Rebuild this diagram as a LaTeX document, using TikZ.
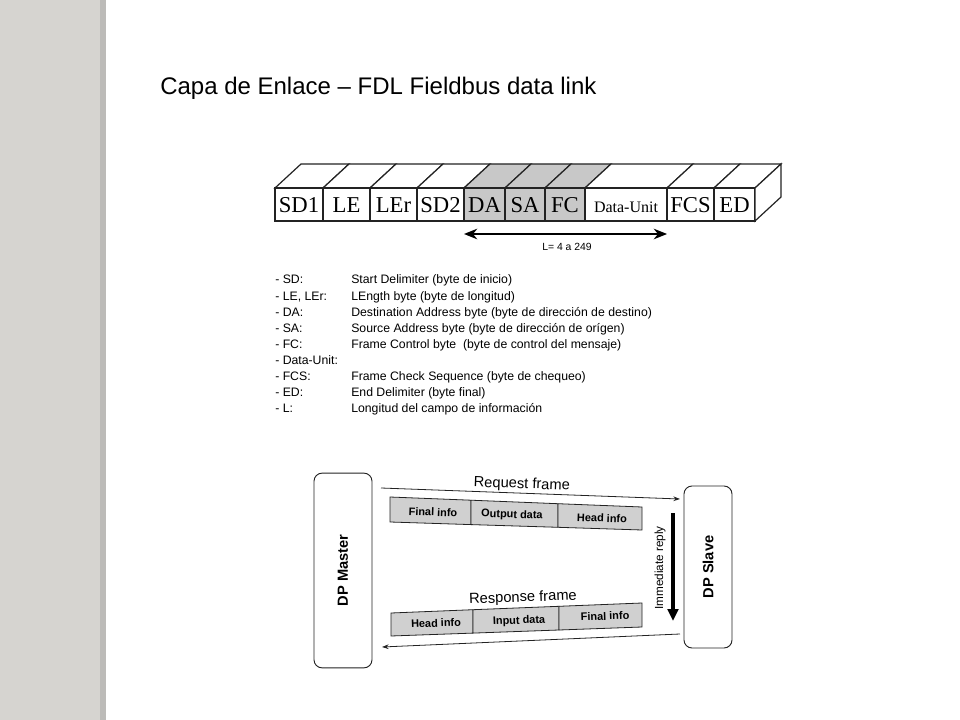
\documentclass[tikz,border=0pt]{standalone}
\usepackage{fontspec}
\setmainfont{Liberation Sans}
\newfontfamily\framefont{Liberation Serif}
\usetikzlibrary{arrows.meta}
\definecolor{StripColor}{RGB}{214,212,208}
\definecolor{StripEdge}{RGB}{188,187,184}
\definecolor{FieldShade}{RGB}{200,200,200}
\definecolor{InfoShade}{RGB}{208,208,208}
\definecolor{LineColor}{RGB}{35,35,35}
\tikzset{
    title/.style={font=\fontsize{18}{20}\selectfont, inner sep=0pt, anchor=west},
    fieldline/.style={draw=LineColor, line width=0.9pt},
    field/.style={font=\framefont\fontsize{17}{17}\selectfont, inner sep=0pt, anchor=base},
    fieldsmall/.style={font=\framefont\fontsize{12}{12}\selectfont, inner sep=0pt, anchor=base},
    span/.style={{Stealth[length=10pt,width=8pt]}-{Stealth[length=10pt,width=8pt]}, line width=1.1pt, draw=black},
    spanlabel/.style={font=\fontsize{7.8}{9}\selectfont, inner sep=0pt},
    legend/.style={font=\fontsize{9.2}{10}\selectfont, inner sep=0pt, anchor=base west},
    station/.style={draw=LineColor, rounded corners=6pt, line width=0.7pt, font=\bfseries\fontsize{11}{12}\selectfont},
    infobox/.style={draw=LineColor, fill=InfoShade, line width=0.6pt},
    infotext/.style={font=\bfseries\fontsize{8.2}{9}\selectfont, inner sep=0pt, text height=6pt, text depth=0pt},
    msg/.style={-{Stealth[length=5pt,width=3.5pt]}, draw=LineColor, line width=0.6pt},
    msglabel/.style={font=\fontsize{11}{12}\selectfont, inner sep=1pt},
    reply/.style={-{Triangle[length=9pt,width=8pt]}, line width=2.6pt, draw=black}
}
\begin{document}
\begin{tikzpicture}[x=0.75pt,y=-0.75pt]
    \useasboundingbox (0,0) rectangle (960,720);
    % Background strip
    \fill[StripColor] (0,0) rectangle (103,720);
    \fill[StripEdge] (100,0) rectangle (106,720);

    % Title
    \node[title] (title) at (160,88) {Capa de Enlace – FDL Fieldbus data link};

    % Frame fields
    \foreach \a/\b/\t/\c/\s/\n in {275/323/SD1/white/field/sd1, 323/370/LE/white/field/le,
        370/417/LEr/white/field/ler, 417/464/SD2/white/field/sdtwo,
        464/505/DA/FieldShade/field/da, 505/545/SA/FieldShade/field/sa,
        545/585/FC/FieldShade/field/fc, 585/667/Data-Unit/white/fieldsmall/du,
        667/714/FCS/white/field/fcs, 714/755/ED/white/field/ed} {
        \filldraw[fieldline, fill=\c] (\a,188) -- ++(26,-24) -- (\b+26,164) -- (\b,188) -- cycle;
        \filldraw[fieldline, fill=\c] (\a,188) rectangle (\b,221);
        \node[\s] (\n) at ({(\a+\b)/2},213) {\t};
    }
    \filldraw[fieldline, fill=white] (755,188) -- (781,164) -- (781,197) -- (755,221) -- cycle;

    % Length span
    \coordinate (l-left) at (464,234);
    \coordinate (l-right) at (667,234);
    \draw[span] (l-left) -- (l-right);
    \node[spanlabel] (l-label) at (567,247) {L= 4 a 249};

    % Legend
    \foreach \i/\k/\d in {0/{- SD:}/{Start Delimiter (byte de inicio)},
        1/{- LE, LEr:}/{LEngth byte (byte de longitud)},
        2/{- DA:}/{Destination Address byte (byte de dirección de destino)},
        3/{- SA:}/{Source Address byte (byte de dirección de orígen)},
        4/{- FC:}/{Frame Control byte\ \ (byte de control del mensaje)},
        5/{- Data-Unit:}/{},
        6/{- FCS:}/{Frame Check Sequence (byte de chequeo)},
        7/{- ED:}/{End Delimiter (byte final)},
        8/{- L:}/{Longitud del campo de información}} {
        \node[legend] (key-\i) at (275,{284+\i*16.1}) {\k};
        \node[legend] (desc-\i) at (351,{284+\i*16.1}) {\d};
    }

    % Stations
    \node[station, rotate=90, minimum width=146pt, minimum height=43.5pt] (master) at (343,570.5) {DP Master};
    \node[station, rotate=90, minimum width=121.5pt, minimum height=36pt] (slave) at (708,567) {DP Slave};

    % Request frame
    \filldraw[infobox] (390,497) -- (471,500.2) -- (471,524.6) -- (390,522) -- cycle;
    \filldraw[infobox] (471,500.2) -- (558,503.7) -- (558,527.3) -- (471,524.6) -- cycle;
    \filldraw[infobox] (558,503.7) -- (642,507) -- (642,530) -- (558,527.3) -- cycle;
    \node[infotext, rotate=-2] (req-final) at (433,512) {Final info};
    \node[infotext, rotate=-2] (req-out) at (512,514) {Output data};
    \node[infotext, rotate=-2] (req-head) at (602,518) {Head info};

    % Response frame
    \filldraw[infobox] (391,613) -- (473,609.7) -- (473,633.1) -- (391,636) -- cycle;
    \filldraw[infobox] (473,609.7) -- (559,606.3) -- (559,630) -- (473,633.1) -- cycle;
    \filldraw[infobox] (559,606.3) -- (642,603) -- (642,627) -- (559,630) -- cycle;
    \node[infotext, rotate=2] (resp-head) at (436,623) {Head info};
    \node[infotext, rotate=2] (resp-in) at (519,620) {Input data};
    \node[infotext, rotate=2] (resp-final) at (605,616) {Final info};

    % Arrows
    \coordinate (req-from) at (381,488);
    \coordinate (req-to) at (680,499);
    \coordinate (resp-from) at (680,634);
    \coordinate (resp-to) at (382,647);
    \coordinate (reply-top) at (673,513);
    \coordinate (reply-bot) at (673,621);
    \draw[msg] (req-from) -- node[msglabel, pos=0.47, above, sloped] (req-label) {Request frame} (req-to);
    \draw[msg] (resp-from) -- (resp-to);
    \node[msglabel, rotate=2] (resp-label) at (523,598) {Response frame};
    \draw[reply] (reply-top) -- (reply-bot);
    \node[font=\fontsize{8.8}{9}\selectfont, rotate=90, inner sep=0pt] (reply-label) at (660,568) {Immediate reply};
\end{tikzpicture}
\end{document}
